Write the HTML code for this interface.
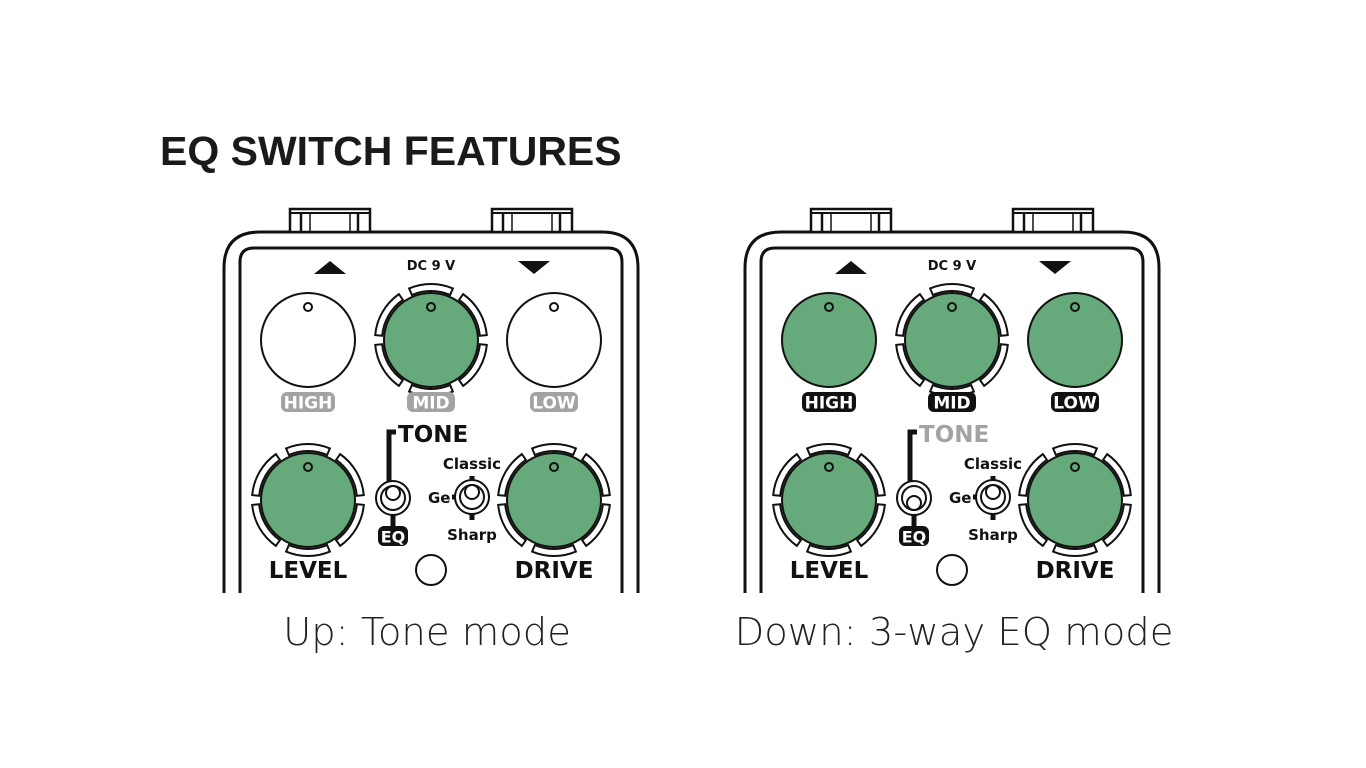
<!DOCTYPE html>
<html><head><meta charset="utf-8"><style>
html,body{margin:0;padding:0;background:#fff;width:1366px;height:768px;overflow:hidden}
svg text{font-family:"DejaVu Sans","Liberation Sans",sans-serif}
</style></head><body>
<svg id="s" width="1366" height="768" xmlns="http://www.w3.org/2000/svg">
<text x="160" y="165" font-size="41" font-weight="bold" fill="#1a1a1a" style="font-family:'Liberation Sans',sans-serif">EQ SWITCH FEATURES</text>
<text x="427" y="645" font-size="38.5" text-anchor="middle" fill="#222" style="font-family:'DejaVu Sans',sans-serif;font-weight:300">Up: Tone mode</text>
<text x="954" y="645" font-size="38.5" text-anchor="middle" fill="#222" style="font-family:'DejaVu Sans',sans-serif;font-weight:300">Down: 3-way EQ mode</text>
</svg>
<script>
const S=document.getElementById('s');const NS='http://www.w3.org/2000/svg';
const G='#66a97a';
function el(t,a,txt){const e=document.createElementNS(NS,t);for(const k in a)e.setAttribute(k,a[k]);if(txt)e.textContent=txt;S.appendChild(e);return e;}
function sector(cx,cy,r1,r2,a1,a2){const r=Math.PI/180;const p=(R,a)=>[cx+R*Math.cos(a*r),cy-R*Math.sin(a*r)];
const A=p(r2,a1),B=p(r2,a2),C=p(r1,a2),D=p(r1,a1);
return `M${A} A${r2},${r2} 0 0 0 ${B} L${C} A${r1},${r1} 0 0 1 ${D} Z`;}
function knob(cx,cy,fill,ring){
 if(ring){[[67,113],[5,55],[-55,-5],[-113,-67],[185,235],[125,175]].forEach(s=>el('path',{d:sector(cx,cy,49,56,s[0],s[1]),fill:'#fff',stroke:'#111','stroke-width':2}));}
 el('circle',{cx,cy,r:47,fill,stroke:'#111','stroke-width':2});
 el('circle',{cx,cy:cy-33,r:4,fill,stroke:'#111','stroke-width':2});
}
function pill(cx,cy,w,txt,bg,fs){el('rect',{x:cx-w/2,y:cy-10,width:w,height:20,rx:6,fill:bg});
 el('text',{x:cx,y:cy+6.5,'font-size':fs||17,'font-weight':'bold','text-anchor':'middle',fill:'#fff'},txt);}
function pedal(o,eq){
 el('path',{d:`M${o+224},593 L${o+224},268 Q${o+224},232 ${o+260},232 L${o+602},232 Q${o+638},232 ${o+638},268 L${o+638},593`,fill:'none',stroke:'#111','stroke-width':3});
 el('path',{d:`M${o+240},593 L${o+240},262 Q${o+240},248 ${o+254},248 L${o+608},248 Q${o+622},248 ${o+622},262 L${o+622},593`,fill:'none',stroke:'#111','stroke-width':3});
 [288,490].forEach(x=>{x+=o;el('rect',{x:x+2,y:209,width:80,height:23,fill:'#fff',stroke:'#111','stroke-width':2.5});
  el('line',{x1:x+13,y1:213,x2:x+13,y2:232,stroke:'#111','stroke-width':2.5});el('line',{x1:x+70,y1:213,x2:x+70,y2:232,stroke:'#111','stroke-width':2.5});
  el('line',{x1:x+2,y1:213,x2:x+82,y2:213,stroke:'#111','stroke-width':2});
  el('line',{x1:x+22,y1:213,x2:x+22,y2:232,stroke:'#111','stroke-width':1.5});el('line',{x1:x+62,y1:213,x2:x+62,y2:232,stroke:'#111','stroke-width':1.5});});
 el('polygon',{points:`${o+518},261 ${o+550},261 ${o+534},274`,fill:'#111'});
 el('polygon',{points:`${o+314},274 ${o+346},274 ${o+330},261`,fill:'#111'});
 el('text',{x:o+431,y:270,'font-size':13,'font-weight':'bold','text-anchor':'middle',fill:'#111'},'DC 9 V');
 knob(o+308,340,eq?G:'#fff',false);knob(o+431,340,G,true);knob(o+554,340,eq?G:'#fff',false);
 const pb=eq?'#111':'#a3a3a3';
 pill(o+308,402,54,'HIGH',pb);pill(o+431,402,48,'MID',pb);pill(o+554,402,48,'LOW',pb);
 knob(o+308,500,G,true);knob(o+554,500,G,true);
 el('text',{x:o+308,y:578,'font-size':23,'font-weight':'bold','text-anchor':'middle',fill:'#111'},'LEVEL');
 el('text',{x:o+554,y:578,'font-size':23,'font-weight':'bold','text-anchor':'middle',fill:'#111'},'DRIVE');
 el('circle',{cx:o+431,cy:570,r:15,fill:'#fff',stroke:'#111','stroke-width':2});
 el('text',{x:o+398,y:442,'font-size':23,'font-weight':'bold',fill:eq?'#a3a3a3':'#111'},'TONE');
 el('path',{d:`M${o+396},432 L${o+389},432 L${o+389},482`,fill:'none',stroke:'#111','stroke-width':5});
 pill(o+393,536,30,'EQ','#111',16);
 el('line',{x1:o+393,y1:512,x2:o+393,y2:528,stroke:'#111','stroke-width':5});
 const sw=(cx,cy,down)=>{el('circle',{cx,cy,r:17,fill:'#fff',stroke:'#111','stroke-width':2});
  el('circle',{cx,cy,r:12,fill:'#fff',stroke:'#111','stroke-width':2});
  el('circle',{cx,cy:cy+(down?5:-5),r:7,fill:'#fff',stroke:'#111','stroke-width':2});};
 sw(o+393,498,eq);
 el('line',{x1:o+472,y1:476,x2:o+472,y2:520,stroke:'#111','stroke-width':5});
 el('line',{x1:o+452,y1:497,x2:o+458,y2:497,stroke:'#111','stroke-width':5});
 sw(o+472,497,false);
 el('text',{x:o+472,y:469,'font-size':15,'font-weight':'bold','text-anchor':'middle',fill:'#111'},'Classic');
 el('text',{x:o+472,y:540,'font-size':15,'font-weight':'bold','text-anchor':'middle',fill:'#111'},'Sharp');
 el('text',{x:o+428,y:503,'font-size':15,'font-weight':'bold',fill:'#111'},'Ge');
}
pedal(0,false);pedal(521,true);
</script>
</body></html>
